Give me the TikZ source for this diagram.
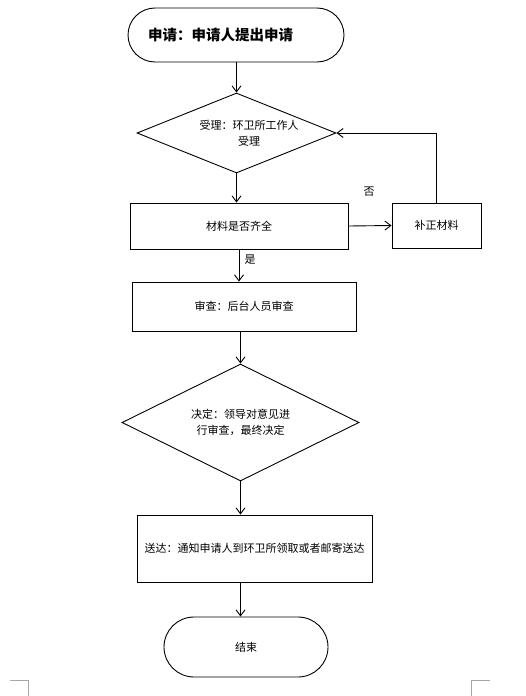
\documentclass[tikz,border=0pt]{standalone}
\usepackage{fontspec}
\setmainfont{Noto Sans CJK SC}
\usetikzlibrary{shapes.geometric,arrows.meta}
\newcommand{\shiftline}[2]{\makebox[0pt][c]{\hspace*{#1}#2}}
\begin{document}
\begin{tikzpicture}[x=1pt,y=-1pt,
  every node/.style={font=\fontsize{11}{16}\selectfont, text=black, inner sep=0pt},
  box/.style={draw, line width=0.9pt, rectangle},
  stadium/.style={draw, line width=0.9pt, rectangle, rounded corners=#1},
  dia/.style={draw, line width=0.9pt, diamond, aspect=2, align=center},
  arr/.style={draw, line width=0.9pt, -{Straight Barb[length=6pt,width=9pt]}},
  lbl/.style={font=\fontsize{11}{13}\selectfont},
  cornermark/.style={draw=black!35, line width=0.9pt}]
\useasboundingbox (0,0) rectangle (526,696);

\node[stadium=27pt, minimum width=216pt, minimum height=54pt, text width=176pt, align=left, font=\fontsize{14.5}{16}\selectfont\bfseries] (start) at (236,35) {申请：申请人提出申请};
\node[dia, minimum width=199pt, minimum height=80pt] (d1) at (236.5,133) {\raisebox{-3pt}{\shiftline{25pt}{受理：环卫所工作人}}\\\raisebox{-3pt}{\shiftline{25pt}{受理}}};
\node[box, minimum width=218pt, minimum height=46pt] (mat) at (239,226) {材料是否齐全};
\node[box, minimum width=89pt, minimum height=45pt] (side) at (436.5,225.5) {补正材料};
\node[box, minimum width=224pt, minimum height=49pt] (rev) at (244,306.5) {审查：后台人员审查};
\node[dia, minimum width=237pt, minimum height=117pt] (d2) at (240.5,422.5) {决定：领导对意见进\\行审查，最终决定};
\node[box, minimum width=235pt, minimum height=67pt] (send) at (254.5,548.5) {送达：通知申请人到环卫所领取或者邮寄送达};
\node[stadium=30pt, minimum width=164pt, minimum height=60pt] (end) at (246,647) {结束};

\node[lbl] (no) at (369,192) {否};
\node[lbl] (yes) at (250,260) {是};

\draw[arr] (d1.north |- start.south) -- (d1.north);
\draw[arr] (d1.south) -- (d1.south |- mat.north);
\draw[arr] (mat.east) -- (side.west);
\draw[arr] (side.north) |- (d1.east);
\draw[arr] (mat.south) -- (mat.south |- rev.north);
\draw[arr] (d2.north |- rev.south) -- (d2.north);
\draw[arr] (d2.south) -- (d2.south |- send.north);
\draw[arr] (send.south -| d2.south) -- (end.north -| d2.south);

\coordinate (cl1) at (10,680);
\coordinate (cl2) at (28,680);
\coordinate (cl3) at (28,696);
\draw[cornermark] (cl1) -- (cl2) -- (cl3);
\coordinate (cr1) at (490,680);
\coordinate (cr2) at (471,680);
\coordinate (cr3) at (471,696);
\draw[cornermark] (cr1) -- (cr2) -- (cr3);
\end{tikzpicture}
\end{document}
